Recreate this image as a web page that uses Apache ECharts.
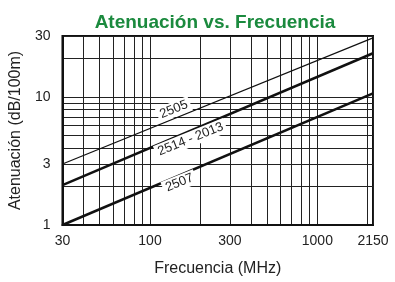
<!DOCTYPE html>
<html>
<head>
<meta charset="utf-8">
<script src="https://cdn.jsdelivr.net/npm/echarts@6/dist/echarts.min.js"></script>
<style>
html, body { margin: 0; padding: 0; background: #fff; }
#chart { width: 395px; height: 282px; }
</style>
</head>
<body>
<div id="chart"></div>
<script>
// valores (rectas en escala log-log, extremos)
const freqs = [30, 2150]
const att2505 = [3.0, 29]
const att2514 = [2.05, 22]
const att2507 = [1.0, 10.7]

// marcas de los ejes
const xLabels = [30, 100, 300, 1000, 2150]
const xGrid = [30, 40, 50, 60, 70, 80, 90, 100, 200, 300, 400, 500, 600, 700, 800, 900, 1000, 2000, 2150]
const yLabels = [1, 3, 10, 30]
const yGrid = [1, 2, 3, 4, 5, 6, 7, 8, 9, 10, 20, 30]

const FONT = 'Liberation Sans, Arial, sans-serif'
const INK = '#111'

function pairs(vals) {
  return freqs.map((f, i) => [f, vals[i]])
}

function serie(name, vals, width, text, at) {
  return {
    name: name,
    type: 'line',
    data: pairs(vals),
    symbol: 'none',
    silent: true,
    lineStyle: { color: INK, width: width },
    markPoint: {
      symbol: 'rect',
      symbolSize: 0,
      silent: true,
      data: [{ coord: at }],
      label: {
        show: true,
        formatter: text,
        position: 'inside',
        color: '#222',
        fontFamily: FONT,
        fontSize: 13,
        backgroundColor: '#fff',
        padding: [1, 3],
        rotate: 22
      }
    }
  }
}

const chart = echarts.init(document.getElementById('chart'))

chart.setOption({
  animation: false,
  title: {
    text: 'Atenuación vs. Frecuencia',
    left: 210,
    textAlign: 'center',
    top: 8,
    textStyle: { color: '#1b8a3e', fontFamily: FONT, fontWeight: 'bold', fontSize: 19 }
  },
  grid: {
    left: 60, right: 22, top: 36, bottom: 54,
    show: true, borderColor: INK, borderWidth: 2, backgroundColor: '#fff'
  },
  xAxis: {
    type: 'log',
    logBase: 10,
    min: 30,
    max: 2150,
    name: 'Frecuencia (MHz)',
    nameLocation: 'middle',
    nameGap: 36,
    nameTextStyle: { color: '#222', fontFamily: FONT, fontSize: 16 },
    axisLine: { show: true, lineStyle: { color: INK, width: 2 } },
    axisTick: { show: false, customValues: xGrid },
    splitLine: { show: true, lineStyle: { color: '#222', width: 1 } },
    axisLabel: {
      customValues: xLabels,
      formatter: v => String(Math.round(v)),
      color: '#222', fontFamily: FONT, fontSize: 14, margin: 9
    }
  },
  yAxis: {
    type: 'log',
    logBase: 10,
    min: 1,
    max: 30,
    name: 'Atenuación (dB/100m)',
    nameLocation: 'middle',
    nameGap: 32,
    nameTextStyle: { color: '#222', fontFamily: FONT, fontSize: 16 },
    axisLine: { show: true, lineStyle: { color: INK, width: 2 } },
    axisTick: { show: false, customValues: yGrid },
    splitLine: { show: true, lineStyle: { color: '#222', width: 1 } },
    axisLabel: {
      customValues: yLabels,
      formatter: v => String(Math.round(v)),
      color: '#222', fontFamily: FONT, fontSize: 14, margin: 12
    }
  },
  series: [
    serie('2505', att2505, 1.2, '2505', [139, 8.0]),
    serie('2514 - 2013', att2514, 2.5, '2514 - 2013', [175, 4.69]),
    serie('2507', att2507, 2.5, '2507', [150, 2.14])
  ]
})

window.addEventListener('resize', chart.resize)
</script>
</body>
</html>
